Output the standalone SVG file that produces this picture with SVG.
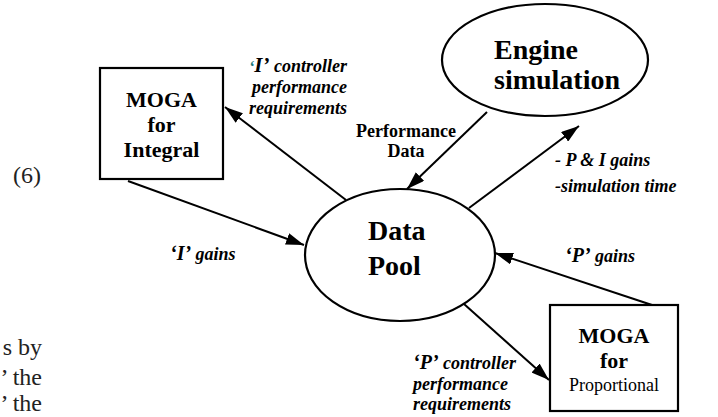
<svg xmlns="http://www.w3.org/2000/svg" width="718" height="417" viewBox="0 0 718 417">
<style>
.shape{fill:#fff;stroke:#000;stroke-width:2.2}
.conn{stroke:#000;stroke-width:2;fill:none;marker-end:url(#ah)}
text{font-family:'Liberation Serif','DejaVu Serif',serif}
.t{fill:#000}
.node{font-size:22px;font-weight:bold;text-anchor:middle}
.big{font-size:28px;font-weight:bold}
.lbl{font-size:18px;font-weight:bold;font-style:italic}
.body{font-size:24px;fill:#222}
</style>
<defs>
<marker id="ah" markerWidth="18" markerHeight="12" refX="18" refY="6" orient="auto" markerUnits="userSpaceOnUse">
<path d="M0,0 L18,6 L0,12 z" fill="#000"/>
</marker>
</defs>
<rect width="718" height="417" fill="#fff"/>

<g id="page-text">
<text class="body" font-family="Liberation Serif, DejaVu Serif, serif" x="13" y="183">(6)</text>
<text class="body" font-family="Liberation Serif, DejaVu Serif, serif" x="42" y="355" text-anchor="end">s by</text>
<text class="body" font-family="Liberation Serif, DejaVu Serif, serif" x="42" y="385" text-anchor="end">’ the</text>
<text class="body" font-family="Liberation Serif, DejaVu Serif, serif" x="42" y="411" text-anchor="end">’ the</text>
</g>

<g id="connectors">
<line class="conn" x1="346" y1="200" x2="225" y2="107"/>
<line class="conn" x1="128" y1="181" x2="304" y2="245"/>
<line class="conn" x1="487" y1="112" x2="407" y2="189"/>
<line class="conn" x1="469" y1="208" x2="579" y2="126"/>
<line class="conn" x1="652" y1="305" x2="495" y2="253"/>
<line class="conn" x1="464" y1="304" x2="549" y2="380"/>
</g>

<g id="moga-integral" font-family="Liberation Serif, DejaVu Serif, serif">
<rect class="shape" x="100" y="68" width="123" height="111"/>
<text class="t node" x="161.5" y="107">MOGA</text>
<text class="t node" x="161.5" y="132">for</text>
<text class="t node" x="161.5" y="157">Integral</text>
</g>

<g id="engine-simulation" font-family="Liberation Serif, DejaVu Serif, serif">
<ellipse class="shape" cx="545" cy="60" rx="103" ry="56"/>
<text class="t big" x="494" y="59">Engine</text>
<text class="t big" x="494" y="89">simulation</text>
</g>

<g id="data-pool" font-family="Liberation Serif, DejaVu Serif, serif">
<ellipse class="shape" cx="400" cy="255" rx="95" ry="66"/>
<text class="t big" x="368" y="240">Data</text>
<text class="t big" x="368" y="275">Pool</text>
</g>

<g id="moga-proportional" font-family="Liberation Serif, DejaVu Serif, serif">
<rect class="shape" x="550" y="305" width="128" height="106"/>
<text class="t node" x="614" y="343">MOGA</text>
<text class="t node" x="614" y="368">for</text>
<text class="t" x="614" y="391" font-size="18" text-anchor="middle">Proportional</text>
</g>

<g id="labels" font-family="Liberation Serif, DejaVu Serif, serif">
<text class="t lbl" x="347" y="72" text-anchor="end"><tspan fill="#1a7a7a" font-size="16">‘</tspan><tspan font-size="21">I’</tspan> controller</text>
<text class="t lbl" x="347" y="93" text-anchor="end">performance</text>
<text class="t lbl" x="347" y="114" text-anchor="end">requirements</text>

<text class="t" x="406" y="137" font-size="18" font-weight="bold" text-anchor="middle">Performance</text>
<text class="t" x="406" y="157" font-size="18" font-weight="bold" text-anchor="middle">Data</text>

<text class="t lbl" x="555" y="166" font-size="22">- P &amp; I gains</text>
<text class="t lbl" x="555" y="192" font-size="22">-simulation time</text>

<text class="t lbl" x="170" y="260"><tspan font-size="20">‘I’</tspan> gains</text>
<text class="t lbl" x="565" y="262"><tspan font-size="20">‘P’</tspan> gains</text>

<text class="t lbl" x="413" y="369"><tspan font-size="20">‘P’</tspan> controller</text>
<text class="t lbl" x="413" y="390">performance</text>
<text class="t lbl" x="413" y="410">requirements</text>
</g>
</svg>
